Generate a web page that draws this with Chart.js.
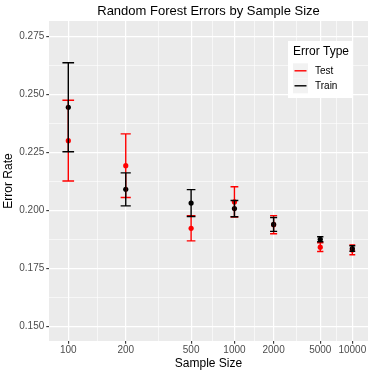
<!DOCTYPE html>
<html>
<head>
<meta charset="utf-8">
<script src="https://cdn.jsdelivr.net/npm/chart.js@4/dist/chart.umd.min.js"></script>
<style>
html,body{margin:0;padding:0;background:#fff;}
#wrap{width:374px;height:374px;}
</style>
</head>
<body>
<div id="wrap"><canvas id="c" width="374" height="374"></canvas></div>
<script>
const sampleSizes = [100, 200, 500, 1000, 2000, 5000, 10000];
const testMean  = [0.2302, 0.2194, 0.1924, 0.2038, 0.1940, 0.1843, 0.1831];
const testErr   = [0.0174, 0.0137, 0.0054, 0.0065, 0.0039, 0.0019, 0.0021];
const trainMean = [0.2446, 0.2092, 0.2033, 0.2009, 0.1941, 0.1877, 0.1837];
const trainErr  = [0.0192, 0.0071, 0.0058, 0.0035, 0.0030, 0.0011, 0.0012];
const xTickLabels = ['100', '200', '500', '1000', '2000', '5000', '10000'];
const yTickValues = [0.150, 0.175, 0.200, 0.225, 0.250, 0.275];
const seriesNames = ['Test', 'Train'];
const seriesColors = ['#ff0000', '#000000'];

const FONT = '"Liberation Sans", Arial, Helvetica, sans-serif';
const L = sampleSizes.map(n => Math.log10(n));
const xMajor = xTickLabels.map(t => Math.log10(Number(t)));
const xMinor = [];
for (let i = 0; i < xMajor.length - 1; i++) xMinor.push(Math.sqrt(xMajor[i] * xMajor[i + 1]));
const yMinor = [];
for (let i = 0; i < yTickValues.length - 1; i++) yMinor.push((yTickValues[i] + yTickValues[i + 1]) / 2);
const CAP_HALF = 0.0285;

const bgPlugin = {
  id: 'bg',
  beforeDraw(chart) {
    const {ctx, chartArea: a} = chart;
    ctx.save();
    ctx.fillStyle = '#ffffff';
    ctx.fillRect(0, 0, chart.width, chart.height);
    ctx.fillStyle = '#ebebeb';
    ctx.fillRect(a.left, a.top, a.right - a.left, a.bottom - a.top);
    ctx.restore();
  }
};

const errPlugin = {
  id: 'errbars',
  afterDatasetsDraw(chart) {
    const {ctx, chartArea: a} = chart;
    const xs = chart.scales.x, ys = chart.scales.y;
    const sets = [[testMean, testErr, seriesColors[0]], [trainMean, trainErr, seriesColors[1]]];
    ctx.save();
    ctx.beginPath();
    ctx.rect(a.left, a.top, a.right - a.left, a.bottom - a.top);
    ctx.clip();
    ctx.lineWidth = 1.4;
    ctx.lineCap = 'butt';
    for (const [m, e, col] of sets) {
      ctx.strokeStyle = col;
      for (let i = 0; i < L.length; i++) {
        const x = xs.getPixelForValue(L[i]);
        const xl = xs.getPixelForValue(L[i] - CAP_HALF);
        const xr = xs.getPixelForValue(L[i] + CAP_HALF);
        const yt = ys.getPixelForValue(m[i] + e[i]);
        const yb = ys.getPixelForValue(m[i] - e[i]);
        ctx.beginPath();
        ctx.moveTo(x, yt); ctx.lineTo(x, yb);
        ctx.moveTo(xl, yt); ctx.lineTo(xr, yt);
        ctx.moveTo(xl, yb); ctx.lineTo(xr, yb);
        ctx.stroke();
      }
    }
    ctx.restore();
  }
};

const legendPlugin = {
  id: 'ggLegend',
  afterDraw(chart) {
    const ctx = chart.ctx;
    ctx.save();
    ctx.fillStyle = '#ffffff';
    ctx.fillRect(288, 41, 65, 57);
    ctx.fillStyle = '#000000';
    ctx.font = '12px ' + FONT;
    ctx.textBaseline = 'middle';
    ctx.textAlign = 'left';
    ctx.fillText('Error Type', 293, 52);
    for (let i = 0; i < seriesNames.length; i++) {
      const ky = 63.3 + i * 15;
      ctx.fillStyle = '#f2f2f2';
      ctx.fillRect(293, ky, 15, 15);
      ctx.strokeStyle = seriesColors[i];
      ctx.lineWidth = 1.4;
      ctx.beginPath();
      ctx.moveTo(294.5, ky + 7.5); ctx.lineTo(306.5, ky + 7.5);
      ctx.stroke();
      ctx.fillStyle = '#000000';
      ctx.font = '10px ' + FONT;
      ctx.fillText(seriesNames[i], 315, ky + 7.5);
    }
    ctx.restore();
  }
};

const gridOpts = () => ({
  color: '#ffffff',
  lineWidth: ctx => (ctx.tick && ctx.tick.minor) ? 0.6 : 1.2,
  drawTicks: true,
  tickLength: 2.75,
  tickColor: ctx => (ctx.tick && ctx.tick.minor) ? 'rgba(0,0,0,0)' : '#333333',
  tickWidth: 1.1
});

new Chart(document.getElementById('c'), {
  type: 'scatter',
  data: {
    datasets: [
      {
        label: seriesNames[0],
        data: L.map((x, i) => ({x, y: testMean[i]})),
        backgroundColor: seriesColors[0],
        borderWidth: 0,
        pointRadius: 2.6,
        order: 1
      },
      {
        label: seriesNames[1],
        data: L.map((x, i) => ({x, y: trainMean[i]})),
        backgroundColor: seriesColors[1],
        borderWidth: 0,
        pointRadius: 2.6,
        order: 0
      }
    ]
  },
  options: {
    responsive: false,
    animation: false,
    layout: {padding: {left: 0, right: 6, top: 0, bottom: 0}},
    plugins: {
      legend: {display: false},
      tooltip: {enabled: false},
      title: {
        display: true,
        text: 'Random Forest Errors by Sample Size',
        fullSize: false,
        color: '#000000',
        font: {family: FONT, size: 13, weight: 'normal'},
        padding: {top: 3.6, bottom: 1.8}
      }
    },
    scales: {
      x: {
        type: 'logarithmic',
        min: 1.908,
        max: 4.156,
        border: {display: false},
        grid: gridOpts(),
        afterBuildTicks(scale) {
          const t = xMajor.map(v => ({value: v}));
          xMinor.forEach(v => t.push({value: v, minor: true}));
          t.sort((a, b) => a.value - b.value);
          scale.ticks = t;
        },
        afterFit(scale) { scale.height = 33; },
        ticks: {
          autoSkip: false,
          maxRotation: 0,
          padding: 0,
          color: '#4d4d4d',
          font: {family: FONT, size: 10},
          callback(value, index, ticks) {
            if (ticks[index] && ticks[index].minor) return '';
            const k = xMajor.findIndex(v => Math.abs(v - value) < 1e-9);
            return k >= 0 ? xTickLabels[k] : '';
          }
        },
        title: {
          display: true,
          text: 'Sample Size',
          color: '#000000',
          font: {family: FONT, size: 12},
          padding: {top: 0, bottom: 3.5}
        }
      },
      y: {
        type: 'linear',
        min: 0.14384,
        max: 0.28177,
        border: {display: false},
        grid: gridOpts(),
        afterBuildTicks(scale) {
          const t = yTickValues.map(v => ({value: v}));
          yMinor.forEach(v => t.push({value: v, minor: true}));
          t.sort((a, b) => a.value - b.value);
          scale.ticks = t;
        },
        afterFit(scale) { scale.width = 49; },
        ticks: {
          autoSkip: false,
          padding: 2,
          color: '#4d4d4d',
          font: {family: FONT, size: 10},
          callback(value, index, ticks) {
            if (ticks[index] && ticks[index].minor) return '';
            return Number(value).toFixed(3);
          }
        },
        title: {
          display: true,
          text: 'Error Rate',
          color: '#000000',
          font: {family: FONT, size: 12},
          padding: {top: 1.5, bottom: 0}
        }
      }
    }
  },
  plugins: [bgPlugin, errPlugin, legendPlugin]
});
</script>
</body>
</html>
